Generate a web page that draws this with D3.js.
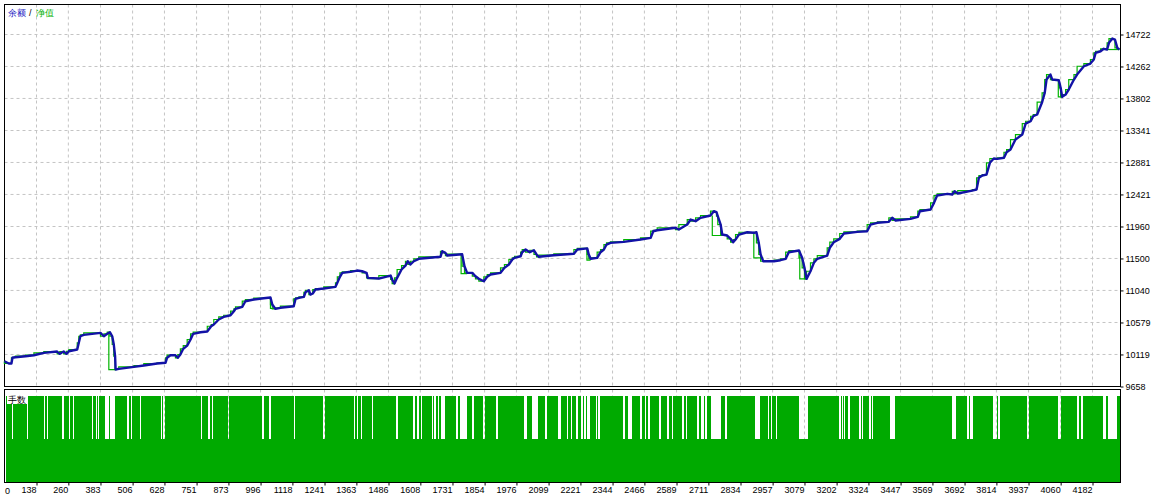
<!DOCTYPE html>
<html lang="zh">
<head>
<meta charset="UTF-8">
<title>余额 / 净值</title>
<script src="https://cdnjs.cloudflare.com/ajax/libs/d3/7.8.5/d3.min.js"></script>
<style>
  body { margin: 0; background: #fff; }
  svg { display: block; }
  text { font-family: "Liberation Sans", Arial, sans-serif; }
</style>
</head>
<body>
<div id="chart"></div>
<script>
// tick labels
const xTickLabels = [0, 138, 260, 383, 506, 628, 751, 873, 996, 1118, 1241, 1363, 1486, 1608, 1731, 1854,
  1976, 2099, 2221, 2344, 2466, 2589, 2711, 2834, 2957, 3079, 3202, 3324, 3447, 3569, 3692, 3814,
  3937, 4060, 4182];
const yTickLabels = [9658, 10119, 10579, 11040, 11500, 11960, 12421, 12881, 13341, 13802, 14262, 14722];

// balance curve: trade number / balance
const tradeIdx = [15, 32, 42, 46, 57, 96, 128, 166, 217, 227, 242, 253, 262, 294, 300, 306, 319, 383, 396, 409,
  419, 428, 434, 439, 441, 453, 511, 549, 600, 632, 638, 651, 670, 679, 689, 700, 715, 728, 738, 766,
  792, 807, 817, 836, 855, 881, 894, 900, 926, 938, 970, 1008, 1034, 1041, 1053, 1072, 1123, 1130, 1143, 1162,
  1168, 1181, 1187, 1196, 1206, 1238, 1283, 1290, 1300, 1309, 1341, 1366, 1385, 1402, 1407, 1449, 1494, 1500, 1509, 1519,
  1536, 1551, 1560, 1570, 1583, 1602, 1685, 1692, 1704, 1711, 1768, 1777, 1787, 1807, 1819, 1832, 1851, 1864, 1877, 1915,
  1930, 1947, 1960, 1969, 1992, 1998, 2011, 2027, 2043, 2053, 2062, 2119, 2196, 2209, 2247, 2253, 2260, 2285, 2298, 2311,
  2321, 2336, 2387, 2451, 2490, 2500, 2515, 2585, 2598, 2630, 2643, 2662, 2681, 2719, 2732, 2742, 2747, 2758, 2764, 2783,
  2796, 2806, 2815, 2828, 2860, 2885, 2895, 2904, 2911, 2921, 2962, 2987, 3007, 3019, 3058, 3070, 3079, 3087, 3102, 3115,
  3128, 3166, 3176, 3191, 3214, 3230, 3281, 3319, 3332, 3358, 3402, 3415, 3428, 3485, 3513, 3521, 3562, 3575, 3587, 3626,
  3645, 3654, 3666, 3721, 3738, 3747, 3760, 3776, 3789, 3804, 3817, 3843, 3853, 3868, 3887, 3913, 3926, 3945, 3955, 3970,
  3989, 3999, 4006, 4021, 4028, 4053, 4060, 4066, 4079, 4091, 4111, 4123, 4149, 4174, 4187, 4194, 4213, 4225, 4238, 4245,
  4258, 4268, 4277, 4285];
const balance = [10022, 9989, 9989, 10071, 10079, 10094, 10108, 10142, 10161, 10128, 10161, 10128, 10165, 10190, 10286, 10381, 10401, 10430, 10381, 10416,
  10439, 10381, 10262, 10094, 9902, 9912, 9941, 9960, 9989, 9999, 10071, 10108, 10108, 10071, 10118, 10200, 10247, 10334, 10416, 10439,
  10449, 10525, 10550, 10622, 10660, 10683, 10741, 10775, 10804, 10885, 10909, 10928, 10938, 10837, 10775, 10790, 10813, 10919, 10934, 10948,
  11014, 11043, 10981, 10996, 11053, 11067, 11092, 11149, 11236, 11293, 11308, 11326, 11316, 11293, 11221, 11211, 11254, 11197, 11139, 11221,
  11341, 11398, 11460, 11413, 11460, 11495, 11524, 11604, 11581, 11542, 11561, 11388, 11293, 11293, 11244, 11207, 11172, 11236, 11269, 11293,
  11365, 11413, 11485, 11509, 11532, 11590, 11629, 11590, 11618, 11557, 11524, 11547, 11567, 11629, 11645, 11557, 11495, 11509, 11590, 11629,
  11700, 11725, 11739, 11772, 11797, 11892, 11906, 11941, 11916, 11988, 12060, 12036, 12085, 12118, 12180, 12165, 12108, 11988, 11844, 11830,
  11782, 11734, 11772, 11844, 11877, 11869, 11877, 11725, 11557, 11460, 11460, 11475, 11495, 11590, 11614, 11509, 11365, 11207, 11316, 11437,
  11495, 11542, 11653, 11734, 11782, 11859, 11883, 11892, 11988, 12013, 12027, 12085, 12046, 12070, 12099, 12180, 12204, 12300, 12405, 12430,
  12420, 12467, 12434, 12477, 12492, 12660, 12693, 12707, 12876, 12938, 12933, 12948, 13028, 13067, 13211, 13283, 13441, 13474, 13546, 13571,
  13748, 13883, 14074, 14146, 14074, 14064, 13955, 13825, 13858, 13930, 14074, 14146, 14265, 14304, 14362, 14458, 14481, 14516, 14506, 14602,
  14664, 14650, 14530, 14506];

// equity drawdowns: where equity drops below balance
const dipIdx = [415, 1034, 1764, 2246, 2726, 2885, 3061, 4051, 4236];
const dipTop = [10435, 10938, 11561, 11653, 12118, 11869, 11614, 14064, 14506];
const dipLow = [9902, 10780, 11283, 11477, 11830, 11509, 11207, 13825, 14506];
const dipEnd = [440, 1053, 1787, 2260, 2783, 2921, 3087, 4066, 4285];

// lot sizes: trades run at lotHigh except inside these ranges
const lotFirst = 22, lotLast = 4286;
const lotHigh = 0.2, lotLow = 0.1;
const lowLotFrom = [31, 46, 100, 165, 179, 234, 262, 278, 350, 365, 374, 402, 421, 486, 498, 506, 536, 614, 624, 686,
  767, 795, 809, 871, 1003, 1029, 1123, 1203, 1237, 1352, 1367, 1381, 1421, 1513, 1578, 1596, 1609, 1651, 1661, 1676,
  1686, 1746, 1761, 1807, 1849, 1899, 2006, 2035, 2087, 2136, 2170, 2183, 2205, 2224, 2234, 2247, 2279, 2288, 2385, 2404,
  2451, 2467, 2479, 2523, 2553, 2570, 2611, 2625, 2668, 2681, 2699, 2722, 2776, 2888, 2941, 2949, 2969, 3059, 3090, 3212,
  3222, 3231, 3247, 3287, 3299, 3327, 3336, 3408, 3645, 3702, 3714, 3802, 3821, 3933, 4051, 4121, 4139, 4224, 4241];
const lowLotTo = [33, 49, 106, 169, 183, 244, 268, 282, 355, 369, 379, 415, 440, 491, 502, 509, 540, 618, 629, 689,
  773, 802, 815, 876, 1010, 1035, 1129, 1206, 1241, 1356, 1371, 1385, 1425, 1524, 1589, 1602, 1616, 1656, 1666, 1681,
  1704, 1751, 1785, 1813, 1854, 1904, 2018, 2057, 2092, 2145, 2175, 2188, 2210, 2229, 2241, 2256, 2283, 2295, 2393, 2417,
  2456, 2472, 2486, 2530, 2562, 2576, 2617, 2631, 2674, 2694, 2707, 2758, 2783, 2907, 2945, 2954, 2973, 3087, 3094, 3217,
  3227, 3236, 3252, 3294, 3303, 3332, 3341, 3424, 3658, 3710, 3723, 3816, 3829, 3938, 4060, 4131, 4147, 4232, 4274];

const width = 1165, height = 500;
const main = { left: 4.5, right: 1120.5, top: 4.5, bottom: 386.5 };
const lotsPanel = { top: 389.5, bottom: 482.5 };

const blue = "#1212a6", eqGreen = "#00b400", barGreen = "#00aa00", gridGray = "#c4c4c4";

const svg = d3.select("#chart").append("svg")
  .attr("width", width)
  .attr("height", height);

const x = d3.scaleLinear().domain([138, 4182]).range([36.5, 1092.5]);
const y = d3.scaleLinear().domain([9658, 14722]).range([386.5, 34.5]);
const yLot = d3.scaleLinear().domain([0, lotHigh]).range([482, 396]);

const gridX = xTickLabels.filter(v => x(v) > main.left + 5);
const gridY = yTickLabels.filter(v => y(v) < main.bottom - 1);

// grid, main panel
svg.append("g").selectAll("line").data(gridX).join("line")
  .attr("x1", d => x(d)).attr("x2", d => x(d))
  .attr("y1", main.top).attr("y2", main.bottom)
  .attr("stroke", gridGray).attr("stroke-dasharray", "3,3");
svg.append("g").selectAll("line").data(gridY).join("line")
  .attr("x1", main.left).attr("x2", main.right)
  .attr("y1", d => y(d)).attr("y2", d => y(d))
  .attr("stroke", gridGray).attr("stroke-dasharray", "3,3");

// grid, lots panel
svg.append("g").selectAll("line").data(gridX).join("line")
  .attr("x1", d => x(d)).attr("x2", d => x(d))
  .attr("y1", lotsPanel.top).attr("y2", lotsPanel.bottom)
  .attr("stroke", gridGray).attr("stroke-dasharray", "3,3");

// lot bars
const highSegs = [];
let prev = lotFirst;
lowLotFrom.forEach((f, i) => {
  if (f > prev) highSegs.push([prev, f]);
  prev = lowLotTo[i];
});
if (lotLast > prev) highSegs.push([prev, lotLast]);

const bars = svg.append("g").attr("shape-rendering", "crispEdges");
bars.append("rect")
  .attr("x", x(lotFirst))
  .attr("width", x(lotLast) - x(lotFirst))
  .attr("y", yLot(lotLow))
  .attr("height", yLot(0) - yLot(lotLow))
  .attr("fill", barGreen);
bars.selectAll("rect.hi").data(highSegs).join("rect")
  .attr("class", "hi")
  .attr("x", d => x(d[0]))
  .attr("width", d => x(d[1]) - x(d[0]))
  .attr("y", yLot(lotHigh))
  .attr("height", yLot(0) - yLot(lotHigh))
  .attr("fill", barGreen);

// label of lots panel
svg.append("rect").attr("x", 7).attr("y", 394).attr("width", 20).attr("height", 10).attr("fill", "#fff");
svg.append("text").attr("x", 8).attr("y", 402.5)
  .attr("font-family", "'Noto Sans CJK SC', sans-serif").attr("font-size", 9)
  .attr("fill", "#000").text("手数");

// panel borders
svg.append("rect")
  .attr("x", main.left).attr("y", main.top)
  .attr("width", main.right - main.left).attr("height", main.bottom - main.top)
  .attr("fill", "none").attr("stroke", "#000");
svg.append("rect")
  .attr("x", main.left).attr("y", lotsPanel.top)
  .attr("width", main.right - main.left).attr("height", lotsPanel.bottom - lotsPanel.top)
  .attr("fill", "none").attr("stroke", "#000");

// equity and balance
const pts = d3.zip(tradeIdx, balance);

svg.append("path")
  .datum(pts)
  .attr("fill", "none")
  .attr("stroke", eqGreen)
  .attr("stroke-width", 1.2)
  .attr("d", d3.line().x(d => x(d[0])).y(d => y(d[1])).curve(d3.curveStepBefore));

svg.append("g").selectAll("path").data(dipIdx.map((d, i) => i)).join("path")
  .attr("fill", "none")
  .attr("stroke", eqGreen)
  .attr("stroke-width", 1.2)
  .attr("d", i => `M${x(dipIdx[i])},${y(dipTop[i])}V${y(dipLow[i])}H${x(dipEnd[i])}`);

svg.append("path")
  .datum(pts)
  .attr("fill", "none")
  .attr("stroke", blue)
  .attr("stroke-width", 2.4)
  .attr("stroke-linejoin", "round")
  .attr("d", d3.line().x(d => x(d[0])).y(d => y(d[1])));

// y axis on the right
const yAxis = svg.append("g")
  .attr("transform", `translate(${main.right},0)`)
  .call(d3.axisRight(y).tickValues(yTickLabels).tickFormat(d3.format("d")).tickSize(3).tickPadding(2));
yAxis.select(".domain").remove();
yAxis.selectAll("text").attr("font-size", 9).attr("font-family", "'Liberation Sans', Arial, sans-serif").attr("fill", "#000");

// x axis under the lots panel
const xAxis = svg.append("g")
  .attr("transform", `translate(0,${lotsPanel.bottom})`)
  .call(d3.axisBottom(x).tickValues(gridX).tickFormat(d3.format("d")).tickSize(3).tickPadding(1));
xAxis.select(".domain").remove();
xAxis.selectAll("text")
  .attr("text-anchor", "end")
  .attr("dx", "-0.5")
  .attr("font-size", 9).attr("font-family", "'Liberation Sans', Arial, sans-serif").attr("fill", "#000");

svg.append("g").selectAll("text").data(xTickLabels.filter(v => x(v) <= main.left + 5)).join("text")
  .attr("x", 10).attr("y", lotsPanel.bottom + 11.5)
  .attr("text-anchor", "end")
  .attr("font-size", 9).attr("font-family", "'Liberation Sans', Arial, sans-serif")
  .text(d => d);

// legend
const legend = svg.append("text").attr("x", 8).attr("y", 16)
  .attr("font-family", "'Noto Sans CJK SC', sans-serif").attr("font-size", 9);
legend.append("tspan").attr("fill", "#1010c0").text("余额");
legend.append("tspan").attr("fill", "#000").attr("dx", 3).text("/");
legend.append("tspan").attr("fill", "#00b000").attr("dx", 4).text("净值");
</script>
</body>
</html>
